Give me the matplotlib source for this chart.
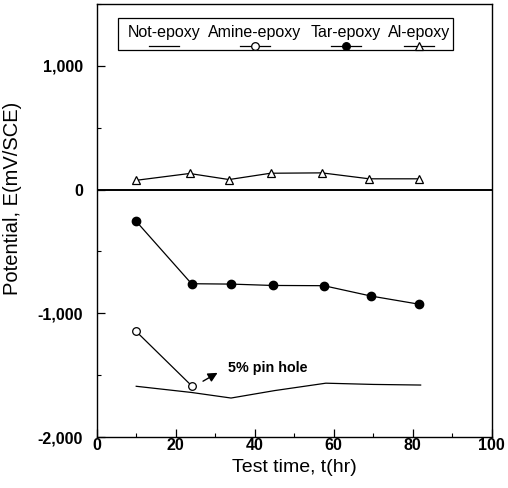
import matplotlib
matplotlib.use("Agg")
import matplotlib.pyplot as plt
from matplotlib.ticker import MultipleLocator, FuncFormatter
from matplotlib.patches import Rectangle
from matplotlib.lines import Line2D

plt.rcParams['font.family'] = ['Liberation Sans', 'DejaVu Sans']

# Data
t_not = [10, 24, 34, 45, 58, 70, 82]
e_not = [-1590, -1640, -1685, -1625, -1565, -1575, -1580]

t_amine = [10, 24]
e_amine = [-1147, -1585]

t_tar = [10, 24, 34, 44.5, 57.5, 69.5, 81.5]
e_tar = [-257, -761, -764, -775, -777, -861, -926]

t_al = [10, 23.5, 33.5, 44, 57, 69, 81.5]
e_al = [75, 130, 81, 132, 135, 87, 87]

legend_labels = ["Not-epoxy", "Amine-epoxy", "Tar-epoxy", "Al-epoxy"]

fig = plt.figure(figsize=(5.08, 4.88), dpi=100)
ax = fig.add_axes([0.1904, 0.1045, 0.7776, 0.8873])

lw = 0.9
ax.plot(t_not, e_not, color='black', lw=lw)
ax.plot(t_amine, e_amine, color='black', lw=lw, marker='o', mfc='white', mec='black', ms=5.5, mew=0.9)
ax.plot(t_tar, e_tar, color='black', lw=lw, marker='o', mfc='black', mec='black', ms=6)
ax.plot(t_al, e_al, color='black', lw=lw, marker='^', mfc='white', mec='black', ms=6, mew=0.9)

ax.axhline(0, color='black', lw=1.4)

ax.set_xlim(0, 100)
ax.set_ylim(-2000, 1500)
ax.xaxis.set_major_locator(MultipleLocator(20))
ax.xaxis.set_minor_locator(MultipleLocator(10))
ax.yaxis.set_major_locator(MultipleLocator(1000))
ax.yaxis.set_minor_locator(MultipleLocator(500))
ax.yaxis.set_major_formatter(FuncFormatter(lambda v, p: f"{int(v):,}"))
ax.tick_params(which='major', direction='in', length=6, width=0.9, labelsize=11.5)
ax.tick_params(axis='y', which='major', pad=10)
ax.tick_params(axis='x', which='major', pad=1)
ax.tick_params(which='minor', direction='in', length=3, width=0.8)
for lab in ax.get_xticklabels() + ax.get_yticklabels():
    lab.set_fontweight('bold')
for s in ax.spines.values():
    s.set_linewidth(1.0)

ax.set_xlabel("Test time, t(hr)", fontsize=14, labelpad=4)
ax.set_ylabel("Potential, E(mV/SCE)", fontsize=14.5)
ax.yaxis.set_label_coords(-0.19, 0.55)

# annotation
ax.annotate("", xy=(31.2, -1470), xytext=(26.3, -1560),
            arrowprops=dict(arrowstyle='-|>', color='black', lw=1.0, mutation_scale=14))
ax.text(33.2, -1445, "5% pin hole", fontsize=10.3, fontweight='bold', va='center', ha='left')

# legend (custom: label above handle)
def px2ax(x, y):
    return ((x - 96.7) / (491.7 - 96.7), (437 - y) / (437 - 4))

x0, y0 = px2ax(118, 50)
x1, y1 = px2ax(453, 18)
ax.add_patch(Rectangle((x0, y0), x1 - x0, y1 - y0, transform=ax.transAxes,
                       fill=True, facecolor='white', edgecolor='black', lw=0.9, zorder=5))
centers = [164, 255, 346, 419]
markers = [None, 'o', 'o', '^']
mfcs = [None, 'white', 'black', 'white']
for c, lab, m, fc in zip(centers, legend_labels, markers, mfcs):
    tx, ty = px2ax(c, 32)
    ax.text(tx, ty, lab, transform=ax.transAxes, ha='center', va='center',
            fontsize=11.5, zorder=6)
    lx0, ly = px2ax(c - 15, 46)
    lx1, _ = px2ax(c + 15, 46)
    mx, _ = px2ax(c, 46)
    ax.add_line(Line2D([lx0, lx1], [ly, ly], transform=ax.transAxes, color='black', lw=lw, zorder=6))
    if m:
        ax.add_line(Line2D([mx], [ly], transform=ax.transAxes, marker=m, mfc=fc, mec='black',
                           ms=5.5, mew=0.9, ls='none', zorder=7))

fig.savefig("out.png", dpi=100)
